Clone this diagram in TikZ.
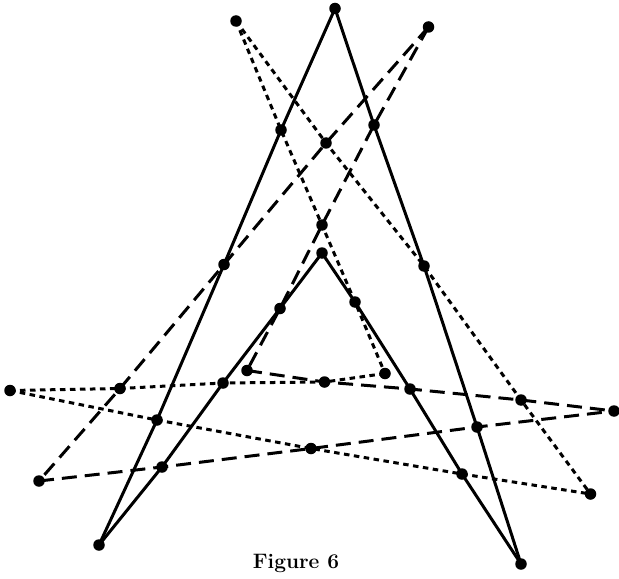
\documentclass[tikz,border=0pt]{standalone}
\pgfdeclarelayer{background}
\pgfsetlayers{background,main}
\begin{document}
\begin{tikzpicture}[x=1bp,y=-1bp,
  vtx/.style={circle,fill=black,inner sep=0pt,minimum size=11.5bp},
  solidln/.style={line width=3bp,line join=round},
  longdash/.style={line width=3bp,dash pattern=on 15bp off 8bp},
  shortdash/.style={line width=3bp,dash pattern=on 5.5bp off 4.5bp}]
\useasboundingbox (0,0) rectangle (619,579);
% outer points
\node[vtx] (T)  at (335,8.5) {};
\node[vtx] (TL) at (236,21) {};
\node[vtx] (TR) at (428.5,27) {};
\node[vtx] (A)  at (322,253) {};
\node[vtx] (BL) at (99,545) {};
\node[vtx] (BR) at (521,564) {};
\node[vtx] (L)  at (10,390.5) {};
\node[vtx] (R)  at (614,411) {};
\node[vtx] (LL) at (39,481) {};
\node[vtx] (RR) at (590.5,494) {};
\node[vtx] (P)  at (247,370.5) {};
\node[vtx] (Q)  at (385,373.5) {};
% intersection points
\node[vtx] (i1)  at (281,130) {};
\node[vtx] (i2)  at (374,125) {};
\node[vtx] (i3)  at (326,143) {};
\node[vtx] (i4)  at (322,225) {};
\node[vtx] (i5)  at (224,264.5) {};
\node[vtx] (i6)  at (424,266) {};
\node[vtx] (i7)  at (280,308.5) {};
\node[vtx] (i8)  at (355,302) {};
\node[vtx] (i9)  at (120,388.5) {};
\node[vtx] (i10) at (223,383) {};
\node[vtx] (i11) at (324.5,382) {};
\node[vtx] (i12) at (410,389) {};
\node[vtx] (i13) at (521,400) {};
\node[vtx] (i14) at (157,420) {};
\node[vtx] (i15) at (477,427) {};
\node[vtx] (i16) at (162,467) {};
\node[vtx] (i17) at (311,448.5) {};
\node[vtx] (i18) at (462,474) {};
\node[font=\bfseries\fontsize{21}{25}\selectfont] (cap) at (296,563) {Figure 6};
\begin{pgfonlayer}{background}
% solid lines
\draw[solidln] (T.center) -- (i1.center) -- (i5.center) -- (i14.center) -- (BL.center);
\draw[solidln] (T.center) -- (i2.center) -- (i6.center) -- (i15.center) -- (BR.center);
\draw[solidln] (A.center) -- (i7.center) -- (i10.center) -- (i16.center) -- (BL.center);
\draw[solidln] (A.center) -- (i8.center) -- (i12.center) -- (i18.center) -- (BR.center);
% long dashed lines
\draw[longdash] (TR.center) -- (i3.center) -- (i5.center) -- (i9.center) -- (LL.center);
\draw[longdash] (TR.center) -- (i2.center) -- (i4.center) -- (i7.center) -- (P.center);
\draw[longdash] (P.center) -- (i11.center) -- (i12.center) -- (i13.center) -- (R.center);
\draw[longdash] (LL.center) -- (i16.center) -- (i17.center) -- (i15.center) -- (R.center);
% short dashed lines
\draw[shortdash] (TL.center) -- (i1.center) -- (i4.center) -- (i8.center) -- (Q.center);
\draw[shortdash] (TL.center) -- (i3.center) -- (i6.center) -- (i13.center) -- (RR.center);
\draw[shortdash] (L.center) -- (i9.center) -- (i10.center) -- (i11.center) -- (Q.center);
\draw[shortdash] (L.center) -- (i14.center) -- (i17.center) -- (i18.center) -- (RR.center);
\end{pgfonlayer}
\end{tikzpicture}
\end{document}
